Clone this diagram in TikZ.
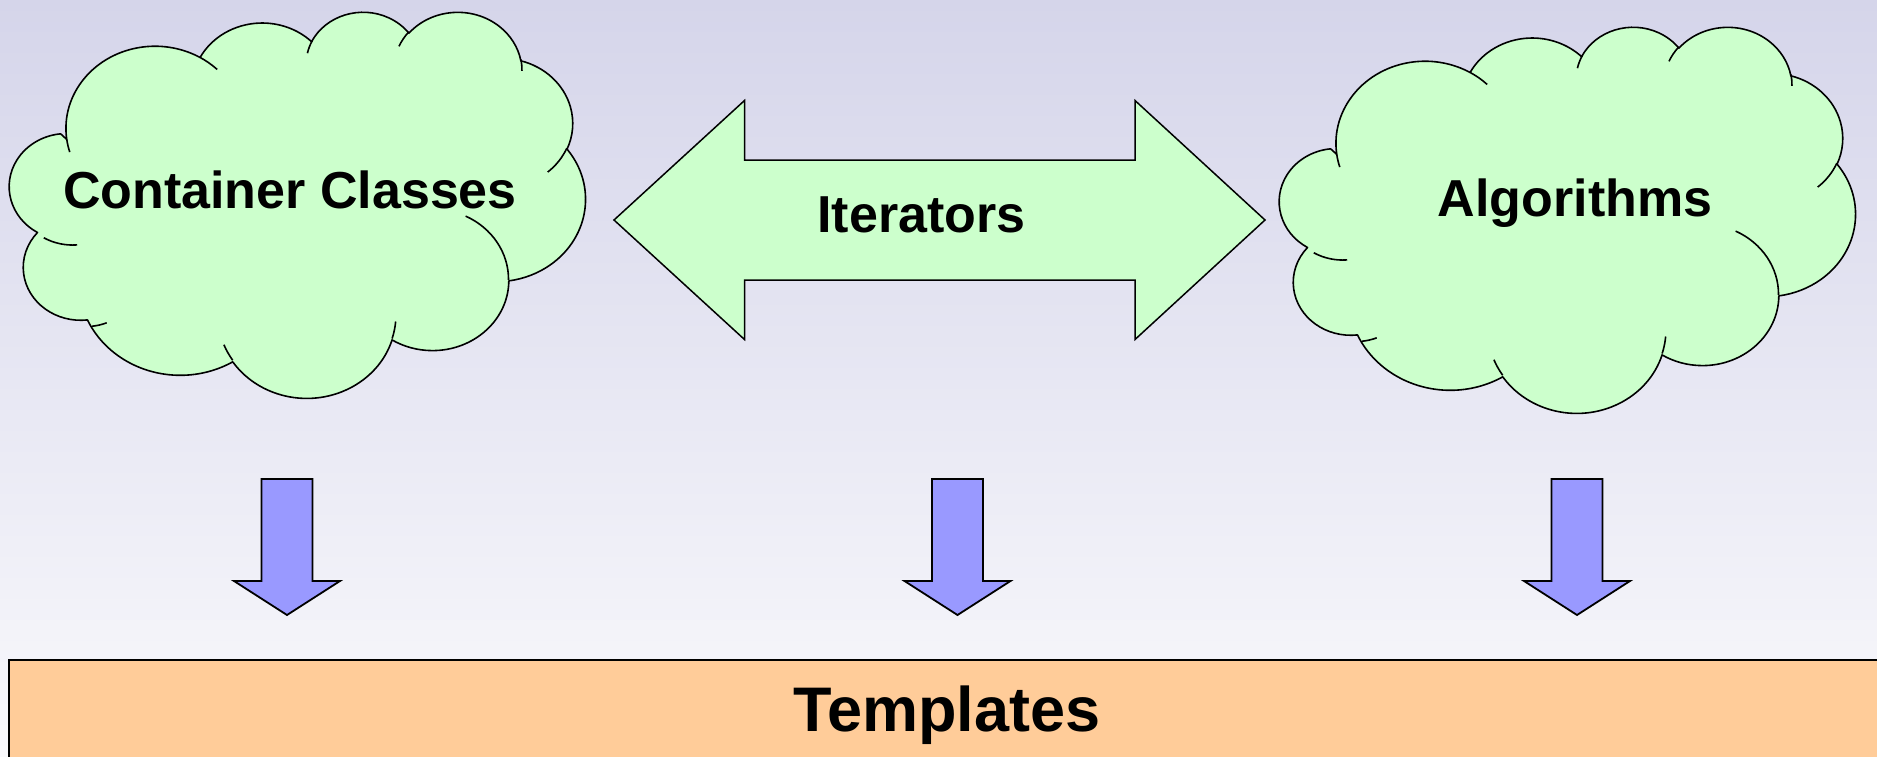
\documentclass[tikz,border=0pt]{standalone}
\usepackage{fontspec}
\setmainfont{Liberation Sans}
\definecolor{bgtop}{HTML}{D5D5EA}
\definecolor{bgbot}{HTML}{F9F9FC}
\definecolor{cloudgreen}{HTML}{CCFFCC}
\definecolor{arrowblue}{HTML}{9999FF}
\definecolor{tempfill}{HTML}{FFCC99}
\newcommand\cloudW{5.70}
\newcommand\cloudH{3.86}
\newcommand\arcpiece[4]{%
  \pgfmathsetmacro\cps{atan2((#1)*sin(#3),(#2)*cos(#3))}%
  \pgfmathsetmacro\cpe{atan2((#1)*sin((#3)+(#4)),(#2)*cos((#3)+(#4)))}%
  \pgfmathsetmacro\cdd{\cpe-\cps}%
  \pgfmathsetmacro\cdd{ifthenelse(\cdd<0,\cdd+360,\cdd)}%
  \pgfmathsetmacro\cnps{0-(\cps)}%
  \pgfmathsetmacro\cndd{0-(\cdd)}%
  \pgfmathsetmacro\crx{(#1)/432*\cloudW}%
  \pgfmathsetmacro\cry{(#2)/432*\cloudH}%
}
\newcommand\addarc[4]{%
  \arcpiece{#1}{#2}{#3}{#4}%
  \xdef\cloudpath{\cloudpath arc[start angle=\cnps, delta angle=\cndd, x radius=\crx pt, y radius=\cry pt]}%
}
% tick start coordinates are given in hundreds of path units
\newcommand\addtick[6]{%
  \pgfmathsetmacro\ctx{(#1)/4.32*\cloudW}%
  \pgfmathsetmacro\cty{0-(#2)/4.32*\cloudH}%
  \arcpiece{#3}{#4}{#5}{#6}%
  \xdef\tickpath{\tickpath (\ctx pt,\cty pt) arc[start angle=\cnps, delta angle=\cndd, x radius=\crx pt, y radius=\cry pt]}%
}
\newcommand\buildcloud{%
  \gdef\cloudpath{}\gdef\tickpath{}%
  \pgfmathsetmacro\csx{39.00/4.32*\cloudW}%
  \pgfmathsetmacro\csy{0-143.70/4.32*\cloudH}%
  \xdef\cloudstart{(\csx pt,\csy pt)}%
  \addarc{6753}{9190}{-190.48748}{123.78053}%
  \addarc{5333}{7267}{-144.10238}{89.94523}%
  \addarc{4365}{5945}{-145.80792}{99.72302}%
  \addarc{4857}{6595}{-130.98607}{117.24173}%
  \addarc{5333}{7273}{-78.70888}{109.02692}%
  \addarc{6775}{9220}{-46.26725}{130.269}%
  \addarc{5785}{7867}{0.62502}{114.03333}%
  \addarc{6752}{9215}{22.4516}{115.17255}%
  \addarc{7720}{10543}{66.24263}{82.07118}%
  \addarc{4360}{5918}{-274.94208}{144.92812}%
  \addarc{4345}{5945}{-246.8285}{152.52335}%
  \addtick{46.93}{261.77}{4345}{5945}{86.742}{26.4295}%
  \addtick{69.28}{348.99}{4360}{5918}{73.61047}{11.44747}%
  \addtick{164.78}{390.90}{6752}{9215}{137.62415}{14.0811}%
  \addtick{288.27}{347.51}{6752}{9215}{6.45327}{15.99835}%
  \addtick{341.29}{229.54}{5785}{7867}{-70.29235}{70.91737}%
  \addtick{417.98}{153.54}{5333}{7273}{30.31803}{27.7515}%
  \addtick{383.24}{54.26}{4857}{6595}{-13.74433}{14.8589}%
  \addtick{290.78}{39.52}{4857}{6595}{-149.18145}{18.19537}%
  \addtick{221.41}{47.20}{4365}{5945}{-163.49427}{17.68635}%
  \addtick{140.00}{51.92}{6753}{9190}{-66.70695}{12.31935}%
  \addtick{41.27}{157.89}{6753}{9190}{157.65435}{11.85817}%
}
\tikzset{
  cloudbody/.style={fill=cloudgreen, draw=black, line width=1.6pt, line join=round},
  cloudtick/.style={draw=black, line width=1.6pt},
  bigarrow/.style={fill=cloudgreen, draw=black, line width=1.5pt, line join=miter},
  downarrow/.style={fill=arrowblue, draw=black, line width=1.8pt, line join=miter},
  lbl/.style={font=\bfseries\fontsize{52}{60}\selectfont, inner sep=0pt, anchor=base},
  biglbl/.style={font=\bfseries\fontsize{63}{72}\selectfont, inner sep=0pt, anchor=base},
}
\begin{document}
\begin{tikzpicture}[x=1pt,y=1pt]
\useasboundingbox (0,0) rectangle (1877,-756);
\clip (0,0) rectangle (1877,-756);
\shade[top color=bgtop, bottom color=bgbot] (0,0) rectangle (1877,-756);
\buildcloud
\begin{scope}[shift={(15.3,-11)}]
  \draw[cloudbody] \cloudstart \cloudpath -- cycle;
  \draw[cloudtick] \tickpath;
\end{scope}
\begin{scope}[shift={(1285.3,-26)}]
  \draw[cloudbody] \cloudstart \cloudpath -- cycle;
  \draw[cloudtick] \tickpath;
\end{scope}
\draw[bigarrow] (614,-220) -- (744.5,-100.5) -- (744.5,-160) -- (1135,-160) -- (1135,-100.5) -- (1265,-220) -- (1135,-339.5) -- (1135,-280) -- (744.5,-280) -- (744.5,-339.5) -- cycle;
\foreach \c in {287,957.5,1577}{
  \draw[downarrow] (\c-25.5,-479) -- (\c+25.5,-479) -- (\c+25.5,-581) -- (\c+53,-581) -- (\c,-615) -- (\c-53,-581) -- (\c-25.5,-581) -- cycle;
}
\draw[fill=tempfill, draw=black, line width=2pt] (8.5,-660) rectangle (1900,-790);
\node[lbl] (cc) at (290,-208.3) {Container Classes};
\node[lbl] (it) at (921.5,-232.7) {Iterators};
\node[lbl] (al) at (1575,-216.7) {Algorithms};
\node[biglbl] (tp) at (947,-731.7) {Templates};
\end{tikzpicture}
\end{document}
